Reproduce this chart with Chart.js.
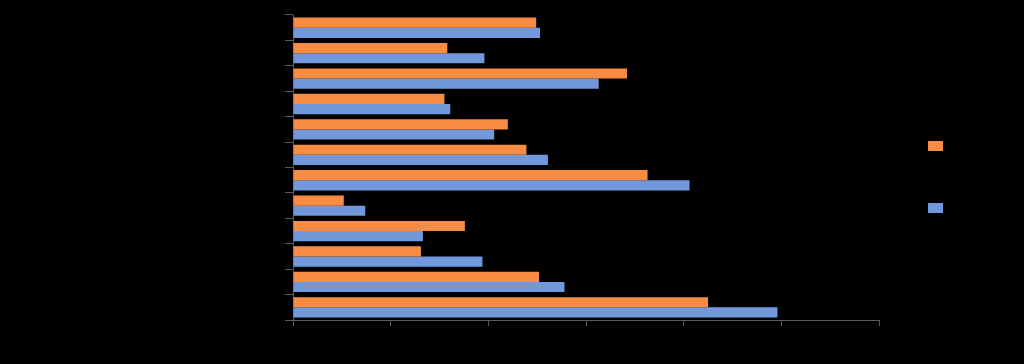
<!DOCTYPE html>
<html>
<head>
<meta charset="utf-8">
<script src="https://cdn.jsdelivr.net/npm/chart.js@4/dist/chart.umd.min.js"></script>
<style>
html,body{margin:0;padding:0;background:#000;}
#wrap{width:1024px;height:364px;}
</style>
</head>
<body>
<div id="wrap"><canvas id="c" width="1024" height="364"></canvas></div>
<script>
const categories = ["1","2","3","4","5","6","7","8","9","10","11","12"];
const seriesNames = ["Series 1","Series 2"];
const seriesA = [24.9, 15.8, 34.2, 15.5, 22.0, 23.9, 36.3, 5.2, 17.6, 13.1, 25.2, 42.5];
const seriesB = [25.3, 19.6, 31.3, 16.1, 20.6, 26.1, 40.6, 7.4, 13.3, 19.4, 27.8, 49.6];
const xTicks = [0, 10, 20, 30, 40, 50, 60];

const ORANGE = '#F98C43';
const BLUE = '#7098DB';
const AXIS = '#5a5a5a';

const legendPlugin = {
  id: 'sideLegend',
  afterDraw(chart) {
    const ctx = chart.ctx;
    const items = [{c: ORANGE, y: 141, t: seriesNames[0]}, {c: BLUE, y: 203, t: seriesNames[1]}];
    ctx.save();
    items.forEach(it => {
      ctx.fillStyle = it.c;
      ctx.fillRect(928, it.y, 15, 10);
      ctx.fillStyle = '#000';
      ctx.font = '12px "Liberation Sans", Arial, sans-serif';
      ctx.textBaseline = 'middle';
      ctx.fillText(it.t, 948, it.y + 5);
    });
    ctx.restore();
  }
};

new Chart(document.getElementById('c'), {
  type: 'bar',
  data: {
    labels: categories,
    datasets: [
      {label: seriesNames[0], data: seriesA, backgroundColor: ORANGE, borderWidth: 0},
      {label: seriesNames[1], data: seriesB, backgroundColor: BLUE, borderWidth: 0}
    ]
  },
  options: {
    indexAxis: 'y',
    responsive: false,
    animation: false,
    devicePixelRatio: 1,
    layout: {padding: {top: 15, right: 145, left: 0, bottom: 0}},
    datasets: {bar: {categoryPercentage: 0.8, barPercentage: 1.0}},
    plugins: {legend: {display: false}, tooltip: {enabled: false}},
    scales: {
      x: {
        type: 'linear',
        min: xTicks[0],
        max: xTicks[xTicks.length - 1],
        afterBuildTicks: (axis) => { axis.ticks = xTicks.map(v => ({value: v})); },
        afterFit: (axis) => { axis.height = 44; },
        grid: {display: true, drawOnChartArea: false, drawTicks: true, tickLength: 6, color: AXIS, lineWidth: 1},
        border: {display: true, color: AXIS, width: 1},
        ticks: {color: '#000', font: {size: 12}}
      },
      y: {
        afterFit: (axis) => { axis.width = 293; },
        grid: {display: true, offset: true, drawOnChartArea: false, drawTicks: true, tickLength: 8, color: AXIS, lineWidth: 1},
        border: {display: true, color: AXIS, width: 1},
        ticks: {color: '#000', font: {size: 12}}
      }
    }
  },
  plugins: [legendPlugin]
});
</script>
</body>
</html>
